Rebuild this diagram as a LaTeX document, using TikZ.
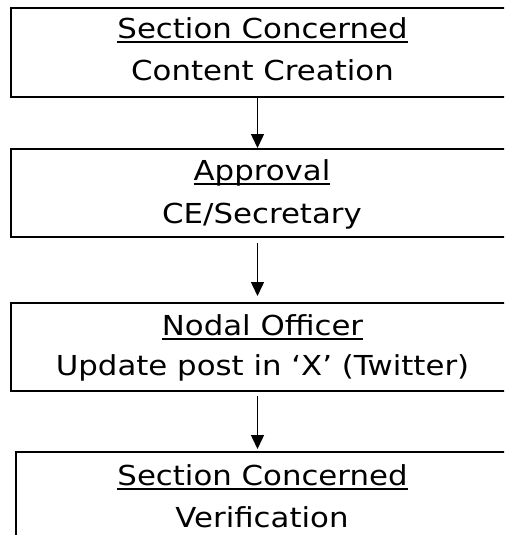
\documentclass[tikz,border=0pt]{standalone}
\usepackage{fontspec}
\setmainfont[FakeStretch=1.12]{DejaVu Sans}
\usetikzlibrary{arrows.meta}
\newcommand{\headul}[1]{\setbox0=\hbox{#1}\rlap{\rule[-5pt]{\wd0}{2pt}}\box0}

\begin{document}
\begin{tikzpicture}[x=1pt, y=-1pt,
    box/.style={draw, line width=2pt, minimum width=503pt, inner sep=0pt},
    txt/.style={anchor=base, inner sep=0pt, font=\fontsize{27.5pt}{33pt}\selectfont},
    flow/.style={line width=1.5pt, -{Triangle[width=13pt,length=14pt]}}]
    \useasboundingbox (0,0) rectangle (504,535);
    \clip (0,0) rectangle (504,535);
    \node[box, minimum height=89pt] (create) at (262.5,52.5) {};
    \node[box, minimum height=88pt] (approve) at (262.5,193) {};
    \node[box, minimum height=88pt] (post) at (262.5,347) {};
    \node[box, minimum height=88pt, minimum width=493pt] (verify) at (262.5,496) {};
    \node[txt] (sec1) at (262.5,38) {\headul{Section Concerned}};
    \node[txt] (cc) at (262.5,80) {Content Creation};
    \node[txt] (appr) at (262,180) {\headul{Approval}};
    \node[txt] (ce) at (262,223) {CE/Secretary};
    \node[txt] (nodal) at (262.5,335) {\headul{Nodal Officer}};
    \node[txt] (upd) at (262.5,375) {Update post in ‘X’ (Twitter)};
    \node[txt] (sec4) at (262.5,485) {\headul{Section Concerned}};
    \node[txt] (ver) at (262,527) {Verification};
    \draw[flow] ([xshift=-5pt]create.south) -- ([xshift=-5pt]approve.north);
    \draw[flow, shorten <=5pt, shorten >=6pt] ([xshift=-5pt]approve.south) -- ([xshift=-5pt]post.north);
    \draw[flow, shorten <=4pt, shorten >=2pt] ([xshift=-5pt]post.south) -- ([xshift=-5pt]verify.north);
\end{tikzpicture}
\end{document}
